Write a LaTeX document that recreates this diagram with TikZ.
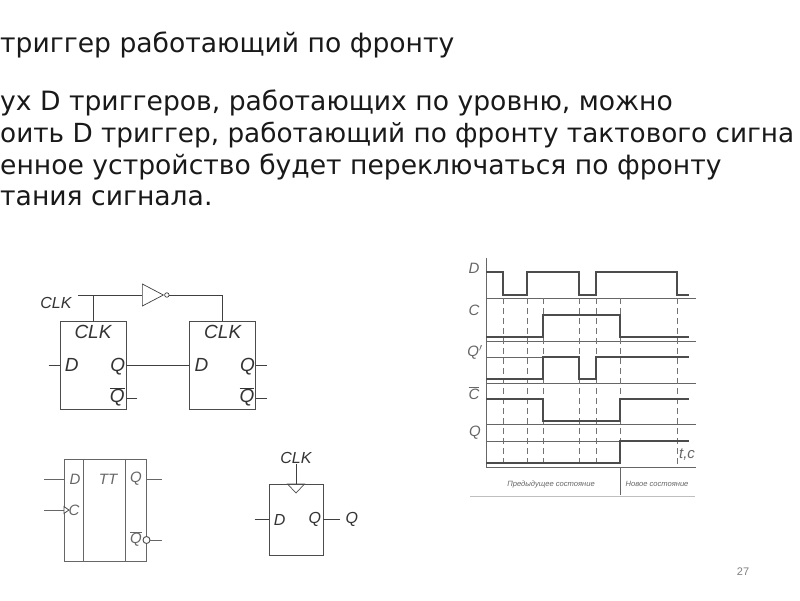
\documentclass[tikz,border=0pt]{standalone}
\usepackage{fontspec}
\setmainfont{Liberation Sans}
\newfontfamily\slidefont{DejaVu Sans}
\usetikzlibrary{positioning, shapes.geometric}
\tikzset{
slidetext/.style={anchor=base west, inner sep=0pt, font=\slidefont\fontsize{26.6}{26.6}\selectfont, text=black!90}, % the lines at the top
ffbox/.style={draw=black!70, line width=0.7pt, minimum width=66pt, minimum height=88pt, inner sep=0pt},
fflabel/.style={inner sep=0pt, font=\itshape\fontsize{19}{19}\selectfont, text=black!80},
wire/.style={draw=black!75, line width=0.7pt},
ttline/.style={draw=black!60, line width=1pt},
ttlabel/.style={inner sep=0pt, font=\itshape\fontsize{15}{15}\selectfont, text=black!60},
signal/.style={draw=black!70, line width=1.1pt},
thin line/.style={draw=black!60, line width=0.6pt},
stateline/.style={draw=black!55, line width=0.7pt, dash pattern=on 6pt off 4pt},
statetext/.style={anchor=base, inner sep=0pt, font=\itshape\fontsize{7.6}{7.6}\selectfont, text=black!60},
}
\begin{document}
\begin{tikzpicture}[x=1pt, y=-1pt]
  \useasboundingbox (0,0) rectangle (800,600);

  % text
  \node[slidetext] (title) at (0,52) {триггер работающий по фронту};
  \node[slidetext] (line1) at (0,110) {ух D триггеров, работающих по уровню, можно};
  \node[slidetext, font=\slidefont\fontsize{26.3}{26.3}\selectfont] (line2) at (0,142) {оить D триггер, работающий по фронту тактового сигна};
  \node[slidetext] (line3) at (0,174) {енное устройство будет переключаться по фронту};
  \node[slidetext] (line4) at (0,205) {тания сигнала.};
  \node[inner sep=0pt, text=black!50, font=\fontsize{11}{11}\selectfont] (pagenum) at (743,572) {27};

  % two latches
  \node[ffbox] (ff1) at (93,365) {};
  \node[ffbox, right=63pt of ff1] (ff2) {};
  \foreach \n in {1,2} {
    \node[fflabel, below=4pt of ff\n.north] (clk\n) {CLK};
    \node[fflabel, right=5pt of ff\n.west] (d\n) {D};
    \node[fflabel, left=1pt of ff\n.east, yshift=-1.5pt] (q\n) {Q};
    \node[fflabel, anchor=center] (nq\n) at ([xshift=-9pt,yshift=-32pt]ff\n.east) {$\overline{\mbox{\itshape Q}}$};
    \coordinate (nqout\n) at ([xshift=11pt,yshift=-33pt]ff\n.east);
    \draw[wire] (nqout\n) -- ++(-11,0);
  }
  \coordinate[left=11pt of ff1.west] (din);
  \coordinate[right=11pt of ff2.east] (qout);
  \draw[wire] (din) -- (ff1.west);
  \draw[wire] (ff1.east) -- (ff2.west);
  \draw[wire] (ff2.east) -- (qout);

  \node[fflabel, font=\itshape\fontsize{16}{16}\selectfont] (clkin) at (56,303) {CLK};
  \coordinate (clkstart) at (78,295);
  \node[isosceles triangle, isosceles triangle stretches, draw=black!75, line width=0.7pt, inner sep=0pt,
    minimum height=21pt, minimum width=22pt, anchor=lower side] (inv) at (142,295) {};
  \node[circle, draw=black!75, line width=0.7pt, inner sep=0pt, minimum size=4.5pt, anchor=west] (bubble) at (inv.apex) {};
  \draw[wire] (clkstart) -- (inv.lower side);
  \draw[wire] (clkstart -| ff1.north) -- (ff1.north);
  \draw[wire] (bubble.east) -- (bubble.east -| ff2.north) -- (ff2.north);

  % flip-flop with the TT column
  \node[draw=black!60, line width=1pt, minimum width=82pt, minimum height=102pt, inner sep=0pt] (tt) at (105,510) {};
  \draw[ttline] ([xshift=20pt]tt.north west) -- ([xshift=20pt]tt.south west);
  \draw[ttline] ([xshift=-21pt]tt.north east) -- ([xshift=-21pt]tt.south east);
  \node[ttlabel] (ttd) at (75,479) {D};
  \node[ttlabel] (ttt) at (108,479) {TT};
  \node[ttlabel] (ttq) at (136,479) {Q};
  \node[ttlabel] (ttc) at (74,510) {C};
  \node[ttlabel] (ttnq) at (136,539) {$\overline{\mbox{\itshape Q}}$};
  \coordinate (ttdin) at (44,479);
  \coordinate (ttcin) at (44,510);
  \coordinate (ttqout) at (162,479);
  \coordinate (ttnqout) at (162,540);
  \node[isosceles triangle, isosceles triangle stretches, draw=black!70, line width=0.8pt, fill=white, inner sep=0pt,
    minimum height=5pt, minimum width=7pt, anchor=lower side] (ttclk) at (tt.west) {};
  \node[circle, draw=black!70, line width=0.9pt, fill=white, inner sep=0pt, minimum size=7pt] (ttbubble) at (tt.east |- ttnqout) {};
  \draw[ttline] (ttdin) -- (ttdin -| tt.west);
  \draw[ttline] (ttcin) -- (ttclk.lower side);
  \draw[ttline] (ttqout -| tt.east) -- (ttqout);
  \draw[ttline] (ttbubble.east) -- (ttnqout);

  % edge flip-flop
  \node[draw=black!70, line width=0.7pt, minimum width=54pt, minimum height=71pt, inner sep=0pt] (ff3) at (296,519.5) {};
  \node[fflabel, font=\itshape\fontsize{16}{16}\selectfont, above=20pt of ff3.north] (clk3) {CLK};
  \node[isosceles triangle, isosceles triangle stretches, shape border rotate=-90, draw=black!70, line width=0.7pt, inner sep=0pt,
    minimum height=9pt, minimum width=17pt, anchor=lower side] (edge3) at (ff3.north) {};
  \node[fflabel, font=\itshape\fontsize{16}{16}\selectfont, right=5pt of ff3.west] (d3) {D};
  \node[fflabel, font=\itshape\fontsize{16}{16}\selectfont, left=2pt of ff3.east] (q3) {Q};
  \node[fflabel, font=\itshape\fontsize{16}{16}\selectfont, right=22pt of ff3.east] (qout3) {Q};
  \coordinate[left=14pt of ff3.west] (din3);
  \coordinate[right=17pt of ff3.east] (qend3);
  \draw[wire] (clk3.south) -- (ff3.north);
  \draw[wire] (din3) -- (ff3.west);
  \draw[wire] (ff3.east) -- (qend3);

  % time chart
  \draw[thin line] (486,258) -- (486,467);
  \foreach \y in {298,341,383,424,467}
    \draw[thin line] (486,\y) -- (696,\y);
  \foreach \x in {503,527,543,579,596,620,677}
    \draw[stateline] (\x,298) -- (\x,467);
  \draw[thin line] (486,357) -- (543,357);
  \draw[thin line] (486,441) -- (620,441);
  \draw[thin line] (620,467) -- (620,495);
  \draw[signal] (486,272) -- (503,272) -- (503,295) -- (527,295) -- (527,272) -- (579,272) -- (579,295) -- (596,295) -- (596,272) -- (677,272) -- (677,295) -- (689,295);
  \draw[signal] (486,337) -- (543,337) -- (543,315) -- (620,315) -- (620,337) -- (689,337);
  \draw[signal] (486,379) -- (543,379) -- (543,357) -- (579,357) -- (579,379) -- (596,379) -- (596,357) -- (689,357);
  \draw[signal] (486,399) -- (543,399) -- (543,421) -- (620,421) -- (620,399) -- (689,399);
  \draw[signal] (486,463) -- (620,463) -- (620,441) -- (689,441);
  \draw[draw=black!25, line width=0.6pt] (470,496) -- (695,496);

  \node[ttlabel] (ld) at (474,268) {D};
  \node[ttlabel] (lc) at (474,310) {C};
  \node[ttlabel] (lq1) at (475,352) {Q$'$};
  \node[ttlabel] (lnc) at (474,393) {$\overline{\mbox{\itshape C}}$};
  \node[ttlabel] (lq) at (475,433) {Q};
  \node[ttlabel] (ltc) at (687,455) {t,c};
  \node[statetext] (prev) at (551,486) {Предыдущее состояние};
  \node[statetext] (next) at (657,486) {Новое состояние};
\end{tikzpicture}
\end{document}
